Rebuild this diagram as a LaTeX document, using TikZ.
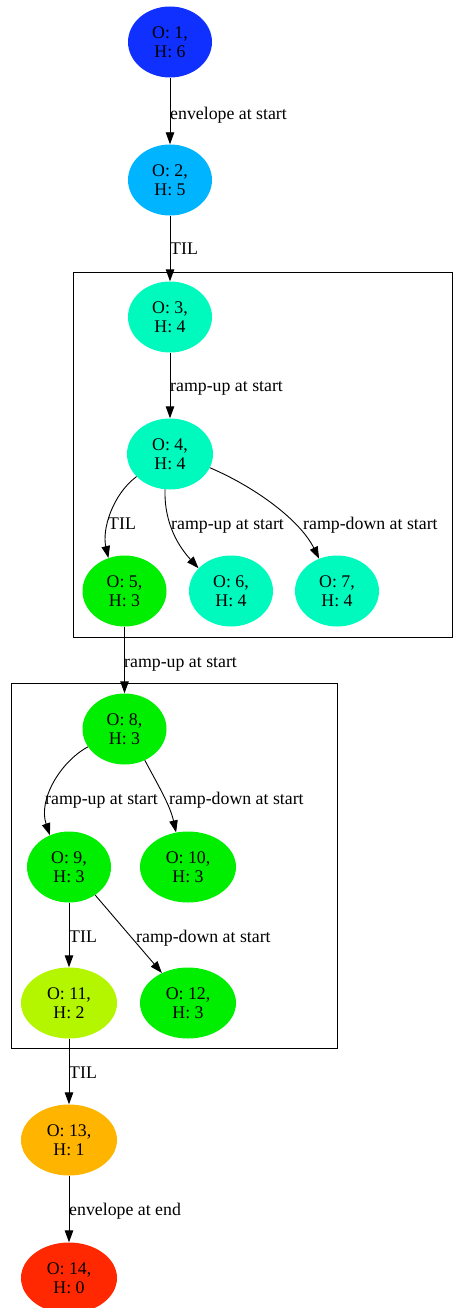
\documentclass[tikz,border=0pt]{standalone}
\usepackage{fontspec}
\setmainfont{Liberation Serif}
\usetikzlibrary{shapes.geometric,arrows.meta}
\definecolor{cA}{RGB}{16,48,255}
\definecolor{cB}{RGB}{0,180,255}
\definecolor{cC}{RGB}{0,250,190}
\definecolor{cD}{RGB}{0,238,0}
\definecolor{cE}{RGB}{180,245,0}
\definecolor{cF}{RGB}{255,180,0}
\definecolor{cG}{RGB}{255,40,0}
\tikzset{
  st/.style={ellipse, fill=#1, draw=none, minimum width=84pt, minimum height=71pt, inner sep=0pt, align=center, font=\fontsize{17.8}{19.4}\selectfont},
  stw/.style={st=#1, minimum width=96pt},
  lbl/.style={anchor=base west, inner sep=0pt, font=\fontsize{17.8}{19.4}\selectfont},
  ed/.style={-{Triangle[length=12pt,width=8.5pt]}, line width=0.9pt, black},
  clu/.style={draw=black, line width=0.9pt}
}
\begin{document}
\begin{tikzpicture}[x=1pt,y=-1pt]
\useasboundingbox (0,0) rectangle (453,1308);
% clusters
\draw[clu] (73,272) rectangle (452.5,637);
\draw[clu] (11,683) rectangle (337,1048);
% nodes
\node[st=cA] (n1) at (170,42) {O: 1,\\H: 6};
\node[st=cB] (n2) at (170,180) {O: 2,\\H: 5};
\node[st=cC] (n3) at (170,317) {O: 3,\\H: 4};
\node[st=cC, minimum width=86pt] (n4) at (170,454) {O: 4,\\H: 4};
\node[st=cD] (n5) at (124.5,591) {O: 5,\\H: 3};
\node[st=cC] (n6) at (231,591) {O: 6,\\H: 4};
\node[st=cC] (n7) at (337,591) {O: 7,\\H: 4};
\node[st=cD] (n8) at (124.5,729) {O: 8,\\H: 3};
\node[st=cD] (n9) at (69,867) {O: 9,\\H: 3};
\node[stw=cD] (n10) at (188,867) {O: 10,\\H: 3};
\node[stw=cE] (n11) at (69,1003) {O: 11,\\H: 2};
\node[stw=cD] (n12) at (188,1003) {O: 12,\\H: 3};
\node[stw=cF] (n13) at (69,1140) {O: 13,\\H: 1};
\node[stw=cG] (n14) at (69,1278) {O: 14,\\H: 0};
% edges
\draw[ed] (n1) -- (n2);
\draw[ed] (n2) -- (n3);
\draw[ed] (n3) -- (n4);
\draw[ed] (n4.214) .. controls (112,495) and (102,530) .. (n5.116);
\draw[ed] (n4.262) .. controls (164,525) and (180,548) .. (n6.145);
\draw[ed] (n4.341) .. controls (255,487) and (300,520) .. (n7.119);
\draw[ed] (n5) -- (n8);
\draw[ed] (n8.206) .. controls (60,762) and (38,800) .. (n9.121);
\draw[ed] (n8.303) .. controls (158,785) and (170,805) .. (n10.109);
\draw[ed] (n9) -- (n11);
\draw[ed] (n9.313) -- (n12.131);
\draw[ed] (n11) -- (n13);
\draw[ed] (n13) -- (n14);
% edge labels
\node[lbl] (l12) at (170,120) {envelope at start};
\node[lbl] (l23) at (170,254) {TIL};
\node[lbl] (l34) at (170,391) {ramp-up at start};
\node[lbl] (l45) at (108,529) {TIL};
\node[lbl] (l46) at (171,529) {ramp-up at start};
\node[lbl] (l47) at (303,529) {ramp-down at start};
\node[lbl] (l58) at (124,667) {ramp-up at start};
\node[lbl] (l89) at (45,804) {ramp-up at start};
\node[lbl] (l810) at (169,804) {ramp-down at start};
\node[lbl] (l911) at (69,942) {TIL};
\node[lbl] (l912) at (136,942) {ramp-down at start};
\node[lbl] (l1113) at (69,1078) {TIL};
\node[lbl] (l1314) at (69,1215) {envelope at end};
\end{tikzpicture}
\end{document}
